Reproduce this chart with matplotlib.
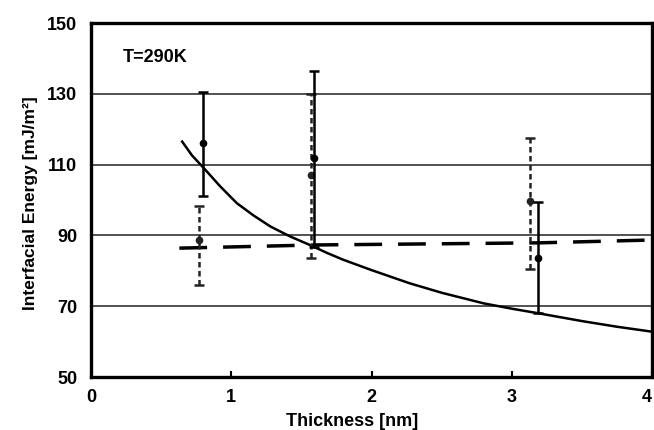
import matplotlib
matplotlib.use("Agg")
import matplotlib.pyplot as plt
import numpy as np

plt.rcParams['font.family'] = ['Liberation Sans', 'DejaVu Sans']
plt.rcParams['font.weight'] = 'bold'

# Series A (solid error bars)
a_x = [0.80, 1.59, 3.19]
a_y = [116.2, 112.0, 83.7]
a_lo = [101.1, 86.6, 68.2]
a_hi = [130.6, 136.5, 99.5]

# Series B (dashed error bars)
b_x = [0.77, 1.57, 3.13]
b_y = [88.7, 107.0, 99.7]
b_lo = [76.0, 83.6, 80.4]
b_hi = [98.4, 130.0, 117.4]

# Solid fitted curve
curve_x = [0.65, 0.72, 0.80, 0.92, 1.04, 1.16, 1.28, 1.42, 1.56, 1.68, 1.80,
           2.00, 2.27, 2.50, 2.80, 3.00, 3.19, 3.50, 3.75, 4.00]
curve_y = [116.5, 112.6, 109.2, 103.9, 99.1, 95.6, 92.5, 89.7, 87.3, 85.1,
           83.1, 80.2, 76.5, 73.8, 70.8, 69.3, 68.0, 65.8, 64.2, 62.8]

# Dashed line
dash_x = [0.63, 1.60, 3.20, 4.0]
dash_y = [86.4, 87.3, 87.9, 88.7]

xticks = [0, 1, 2, 3, 4]
yticks = [50, 70, 90, 110, 130, 150]

fig = plt.figure(figsize=(6.54, 4.30), dpi=100)
ax = fig.add_axes([91/654, 53/430, 561/654, 354/430])

for y in [70, 90, 110, 130]:
    ax.axhline(y, color='#333333', lw=1.2, zorder=1)

ax.plot(curve_x, curve_y, color='black', lw=1.8, zorder=3)
ax.plot(dash_x, dash_y, color='black', lw=2.5, dashes=(8.0, 4.6), zorder=3)

a_err = [np.array(a_y) - np.array(a_lo), np.array(a_hi) - np.array(a_y)]
b_err = [np.array(b_y) - np.array(b_lo), np.array(b_hi) - np.array(b_y)]

eb = ax.errorbar(b_x, b_y, yerr=b_err, fmt='o', color='#222222', ms=4.5,
                 elinewidth=1.8, capsize=3.5, capthick=1.8, zorder=4)
eb[2][0].set_linestyle((0, (2.2, 1.4)))

ax.errorbar(a_x, a_y, yerr=a_err, fmt='o', color='black', ms=4.5,
            elinewidth=1.8, capsize=3.5, capthick=1.8, zorder=5)

ax.set_xlim(0, 4)
ax.set_ylim(50, 150)
ax.set_xticks(xticks)
ax.set_yticks(yticks)
ax.tick_params(axis='x', direction='in', length=4, width=1.5, pad=9,
               labelsize=13, top=False)
ax.tick_params(axis='y', length=0, pad=10, labelsize=13)
for lab in ax.get_xticklabels() + ax.get_yticklabels():
    lab.set_fontweight('bold')
ax.get_xticklabels()[-1].set_horizontalalignment('right')

for s in ax.spines.values():
    s.set_linewidth(2.4)

ax.set_xlabel('Thickness [nm]', fontsize=13, fontweight='bold')
ax.xaxis.set_label_coords(0.465, -0.102)
ax.set_ylabel('Interfacial Energy [mJ/m²]', fontsize=12.5, fontweight='bold')
ax.yaxis.set_label_coords(-0.094, 0.49)

ax.text(0.057, 0.89, 'T=290K', transform=ax.transAxes, fontsize=13,
        fontweight='bold', va='baseline', ha='left')

fig.savefig('out.png', dpi=100)
